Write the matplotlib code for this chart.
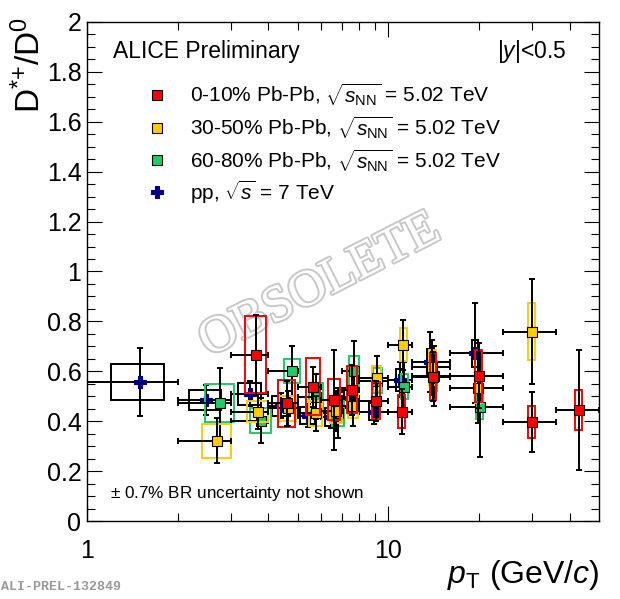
import matplotlib
matplotlib.use('Agg')
import matplotlib.pyplot as plt
import matplotlib.patheffects as pe
from matplotlib.patches import Rectangle
from matplotlib.ticker import FixedLocator, NullFormatter, MultipleLocator, FuncFormatter
import numpy as np

plt.rcParams['font.family'] = ['Liberation Sans', 'DejaVu Sans']
plt.rcParams['mathtext.fontset'] = 'custom'
plt.rcParams['mathtext.rm'] = 'Liberation Sans'
plt.rcParams['mathtext.it'] = 'Liberation Sans:italic'
plt.rcParams['mathtext.bf'] = 'Liberation Sans:bold'

# ---------------- data ----------------
# pp, sqrt(s) = 7 TeV
pp_lo = [1, 2, 3, 4, 5, 6, 7, 8, 10, 12, 16]
pp_hi = [2, 3, 4, 5, 6, 7, 8, 10, 12, 16, 24]
pp_x = [1.5, 2.48, 3.47, 4.4, 5.41, 6.45, 7.45, 8.95, 10.9, 13.8, 19.4]
pp_y = [0.558, 0.486, 0.51, 0.462, 0.422, 0.417, 0.492, 0.438, 0.566, 0.638, 0.672]
pp_stat = [0.137, 0.06, 0.05, 0.05, 0.045, 0.045, 0.05, 0.05, 0.07, 0.12, 0.2]
pp_sys = [0.073, 0.04, 0.044, 0.04, 0.035, 0.035, 0.04, 0.035, 0.045, 0.05, 0.055]

# 0-10% Pb-Pb
c0_lo = [3, 4, 5, 6, 7, 8, 10, 12, 16, 24, 36]
c0_hi = [4, 5, 6, 7, 8, 10, 12, 16, 24, 36, 50]
c0_x = [3.64, 4.6, 5.62, 6.6, 7.57, 9.1, 11.1, 14.05, 19.95, 29.9, 42.8]
c0_y = [0.667, 0.472, 0.538, 0.486, 0.526, 0.482, 0.438, 0.579, 0.582, 0.397, 0.446]
c0_stat = [0.16, 0.09, 0.08, 0.2, 0.1, 0.08, 0.09, 0.1, 0.13, 0.12, 0.24]
c0_sys = [0.155, 0.094, 0.115, 0.082, 0.095, 0.075, 0.067, 0.093, 0.105, 0.065, 0.08]

# 30-50% Pb-Pb
c3_lo = [2, 3, 4, 5, 6, 7, 8, 10, 12, 16, 24]
c3_hi = [3, 4, 5, 6, 7, 8, 10, 12, 16, 24, 36]
c3_x = [2.7, 3.69, 4.64, 5.74, 6.7, 7.66, 9.15, 11.2, 14.0, 19.9, 29.9]
c3_y = [0.322, 0.438, 0.452, 0.432, 0.442, 0.462, 0.572, 0.707, 0.617, 0.532, 0.759]
c3_stat = [0.09, 0.07, 0.07, 0.07, 0.08, 0.08, 0.09, 0.1, 0.11, 0.14, 0.21]
c3_sys = [0.068, 0.043, 0.05, 0.05, 0.05, 0.05, 0.05, 0.065, 0.07, 0.06, 0.115]

# 60-80% Pb-Pb
c6_lo = [2, 3, 4, 5, 6, 7, 8, 10, 12, 16]
c6_hi = [3, 4, 5, 6, 7, 8, 10, 12, 16, 24]
c6_x = [2.77, 3.78, 4.79, 5.75, 6.8, 7.68, 9.2, 11.3, 14.2, 20.1]
c6_y = [0.472, 0.402, 0.602, 0.498, 0.432, 0.602, 0.562, 0.538, 0.582, 0.458]
c6_stat = [0.14, 0.09, 0.1, 0.09, 0.1, 0.12, 0.1, 0.1, 0.12, 0.2]
c6_sys = [0.076, 0.05, 0.047, 0.057, 0.05, 0.06, 0.05, 0.05, 0.06, 0.05]

legend_labels = [
    '0-10% Pb-Pb, $\\sqrt{s_{\\rm NN}}$ = 5.02 TeV',
    '30-50% Pb-Pb, $\\sqrt{s_{\\rm NN}}$ = 5.02 TeV',
    '60-80% Pb-Pb, $\\sqrt{s_{\\rm NN}}$ = 5.02 TeV',
    'pp, $\\sqrt{s}$ = 7 TeV',
]

RED = '#ff0000'
YEL = '#ffcc00'
GRN = '#1fcc66'
NAVY = '#00007f'

fig = plt.figure(figsize=(6.2, 5.99), dpi=100)
ax = fig.add_axes([0.1403, 0.1302, 0.8258, 0.8331])
ax.set_xscale('log')
ax.set_xlim(1, 50)
ax.set_ylim(0, 2)


def draw(x, lo, hi, y, stat, sys, color, marker, ms, boxcolor, capcolor, z, mec='black'):
    x = np.asarray(x, float)
    lo = np.asarray(lo, float)
    hi = np.asarray(hi, float)
    for xi, yi, si in zip(x, y, sys):
        hw = max(0.3, 0.025 * xi)
        ax.add_patch(Rectangle((xi - hw, yi - si), 2 * hw, 2 * si, fill=False,
                               ec=boxcolor, lw=1.4, zorder=z))
    _, caps, _ = ax.errorbar(x, y, xerr=[x - lo, hi - x], yerr=stat, fmt='none',
                             ecolor='black', elinewidth=1.4, capsize=2,
                             capthick=1.4, zorder=z + 0.1)
    for c in caps:
        c.set_color(capcolor)
    ax.plot(x, y, ls='none', marker=marker, ms=ms, mfc=color, mec=mec,
            mew=0.8, zorder=z + 0.2)


draw(pp_x, pp_lo, pp_hi, pp_y, pp_stat, pp_sys, NAVY, 'P', 9, 'black', NAVY, 3, mec=NAVY)
draw(c6_x, c6_lo, c6_hi, c6_y, c6_stat, c6_sys, GRN, 's', 7, GRN, 'black', 4)
draw(c3_x, c3_lo, c3_hi, c3_y, c3_stat, c3_sys, YEL, 's', 7, YEL, 'black', 5)
draw(c0_x, c0_lo, c0_hi, c0_y, c0_stat, c0_sys, RED, 's', 7, RED, 'black', 6)

# ticks
ax.xaxis.set_major_locator(FixedLocator([1, 10]))
ax.xaxis.set_major_formatter(FuncFormatter(lambda v, p: '%g' % v))
ax.xaxis.set_minor_locator(FixedLocator([2, 3, 4, 5, 6, 7, 8, 9, 20, 30, 40]))
ax.xaxis.set_minor_formatter(NullFormatter())
ax.yaxis.set_major_locator(MultipleLocator(0.2))
ax.yaxis.set_minor_locator(MultipleLocator(0.05))
ax.yaxis.set_major_formatter(FuncFormatter(lambda v, p: '%g' % round(v, 2)))
ax.tick_params(which='both', direction='in', top=True, right=True, width=0.8,
               labelsize=18)
ax.tick_params(which='major', length=11)
ax.tick_params(which='minor', length=5.5)
ax.tick_params(axis='x', pad=13)
ax.tick_params(axis='y', pad=4)
for s in ax.spines.values():
    s.set_linewidth(1.0)

ax.set_ylabel('D$^{*{+}}$/D$^{0}$', fontsize=24, loc='top')
ax.yaxis.set_label_coords(-0.077, 1.01)
ax.set_xlabel('$p_{\\rm T}$ (GeV/$c$)', fontsize=23, loc='right')
ax.xaxis.set_label_coords(1.0, -0.074)

# texts
ax.text(0.051, 0.94, 'ALICE Preliminary', transform=ax.transAxes, fontsize=16.5,
        ha='left', va='center')
ax.text(0.936, 0.94, '|$y$|<0.5', transform=ax.transAxes, fontsize=16.5,
        ha='right', va='center')
ax.text(0.045, 0.056, '$\\pm$ 0.7% BR uncertainty not shown', transform=ax.transAxes,
        fontsize=12.3, ha='left', va='center')

# legend
leg_y = [0.854, 0.788, 0.723, 0.659]
leg_style = [(RED, 's', 7, 'black'), (YEL, 's', 7, 'black'), (GRN, 's', 7, 'black'),
             (NAVY, 'P', 9, NAVY)]
for lab, yy, (col, mk, ms, mec) in zip(legend_labels, leg_y, leg_style):
    ax.plot([0.137], [yy], transform=ax.transAxes, marker=mk, ms=ms, mfc=col,
            mec=mec, mew=0.8, ls='none', clip_on=False)
    ax.text(0.201, yy, lab, transform=ax.transAxes, fontsize=15, ha='left',
            va='center')

# watermark
ax.text(0.455, 0.47, 'OBSOLETE', transform=ax.transAxes, fontsize=37,
        family='Liberation Serif', color='white', rotation=27, ha='center',
        va='center', zorder=0.5,
        path_effects=[pe.withStroke(linewidth=2.8, foreground='#c8c8c8')])

fig.text(0.002, 0.01, 'ALI-PREL-132849', fontsize=9.5, family='Liberation Mono',
         color='#999999', ha='left', va='bottom', weight='bold')

fig.savefig('out.png', dpi=100)
